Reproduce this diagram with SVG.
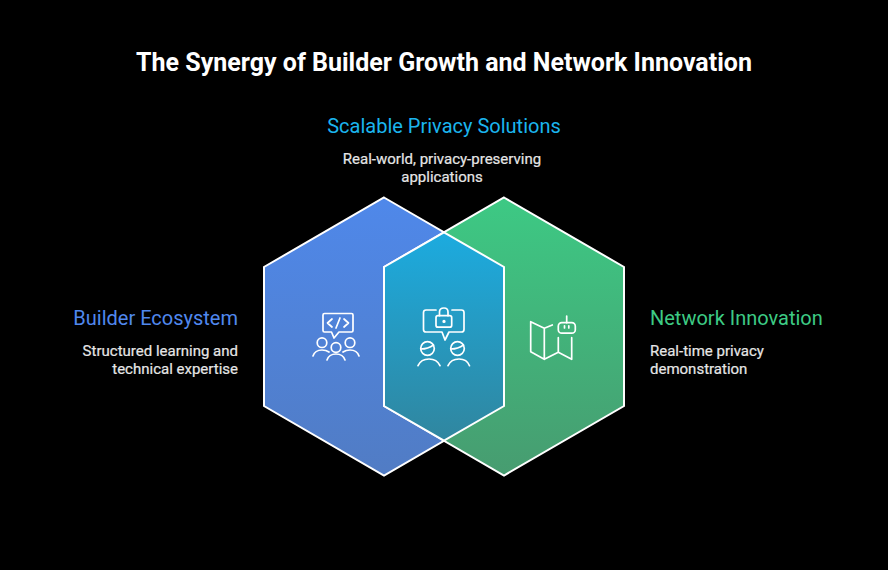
<svg xmlns="http://www.w3.org/2000/svg" width="888" height="570" viewBox="0 0 888 570">
<style>
text{font-family:Roboto,"Liberation Sans",sans-serif}
.t{font-size:25px;font-weight:700;fill:#fff;text-anchor:middle}
.h{font-size:20px;font-weight:400}
.d{font-size:15px;font-weight:400;fill:#e6e6e6;stroke:#e6e6e6;stroke-width:0.2}
.hex{stroke:#fff;stroke-width:2;stroke-linejoin:miter}
.i{fill:none;stroke:#fff;stroke-width:1.7;stroke-linecap:round;stroke-linejoin:round}
</style>
<defs>
<linearGradient id="gb" x1="0" y1="0" x2="0" y2="1"><stop offset="0" stop-color="#4F88EA"/><stop offset="1" stop-color="#517CC4"/></linearGradient>
<linearGradient id="gg" x1="0" y1="0" x2="0" y2="1"><stop offset="0" stop-color="#3DC984"/><stop offset="1" stop-color="#479C70"/></linearGradient>
<linearGradient id="gm" x1="0" y1="0" x2="0" y2="1"><stop offset="0" stop-color="#1CABDF"/><stop offset="1" stop-color="#30869F"/></linearGradient>
</defs>
<rect width="888" height="570" fill="#000"/>
<text class="t" x="444" y="71">The Synergy of Builder Growth and Network Innovation</text>
<g id="node-builder">
<polygon class="hex" fill="url(#gb)" points="384,197.500 504,267 504,406 384,475.500 264,406 264,267"/>
<text class="h" x="238" y="325" text-anchor="end" fill="#5088EE">Builder Ecosystem</text>
<text class="d" x="238" y="356" text-anchor="end">Structured learning and</text>
<text class="d" x="238" y="374" text-anchor="end">technical expertise</text>
</g>
<g id="node-network">
<polygon class="hex" fill="url(#gg)" points="504,197.500 624,267 624,406 504,475.500 384,406 384,267"/>
<text class="h" x="650" y="325" fill="#3DCB84">Network Innovation</text>
<text class="d" x="650" y="356">Real-time privacy</text>
<text class="d" x="650" y="374">demonstration</text>
</g>
<g id="node-privacy">
<polygon class="hex" fill="url(#gm)" points="444,232.300 504,267 504,406 444,440.700 384,406 384,267"/>
<text class="h" x="444" y="133" text-anchor="middle" fill="#1BB5EE">Scalable Privacy Solutions</text>
<text class="d" x="442" y="164" text-anchor="middle">Real-world, privacy-preserving</text>
<text class="d" x="442" y="182" text-anchor="middle">applications</text>
</g>
<g id="icon-builder" class="i">
<path d="M324.500 313.500H351.500Q353 313.500 353 315V330.500Q353 332 351.500 332H339L334 338L331.500 332H324.500Q323 332 323 330.500V315Q323 313.500 324.500 313.500Z"/>
<path d="M332 319L327.500 323L332 327M344 319L348.500 323L344 327M340 318L336 328"/>
<circle cx="322" cy="342.700" r="4.800"/><circle cx="336" cy="347.500" r="4.800"/><circle cx="350" cy="342.700" r="4.800"/>
<path d="M313 356Q315 350 322 350Q326 350 329 352M327 360Q329 354 336 354Q343 354 345 360M343 352Q346 350 350 350Q357 350 359 356"/>
</g>
<g id="icon-privacy" class="i">
<path d="M436 310H426Q423.500 310 423.500 312.500V329.500Q423.500 332 426 332H442L445 340L449 332H461.500Q464 332 464 329.500V312.500Q464 310 461.500 310H452"/>
<rect x="436" y="315.700" width="15.700" height="11.500" rx="2"/>
<path d="M439.500 315.700V312Q439.500 308 444 308Q448 308 448 312V315.700"/>
<circle cx="444" cy="321.400" r="0.800"/>
<circle cx="427.500" cy="348.500" r="6.800"/><circle cx="457.500" cy="348.500" r="6.800"/>
<path d="M421 349Q428 349 433.500 345M451 349Q458 349 463.500 345"/>
<path d="M418 365.700Q421 359 429 359Q437 359 440 365.700M448 365.700Q451 359 459 359Q467 359 469.500 365.700"/>
</g>
<g id="icon-network" class="i">
<path d="M552.300 325L544.300 328.300L530.700 321.700V351.700L544.300 359.300L558.300 352.300L571.700 359.300V337.700M558.300 352.300V337.700M544.300 328.300V359.300"/>
<rect x="558.300" y="322.700" width="17" height="10.500" rx="3.500"/>
<path d="M566.700 322.700V316M564.500 325.800V328M568.800 325.800V328"/>
</g>
</svg>
